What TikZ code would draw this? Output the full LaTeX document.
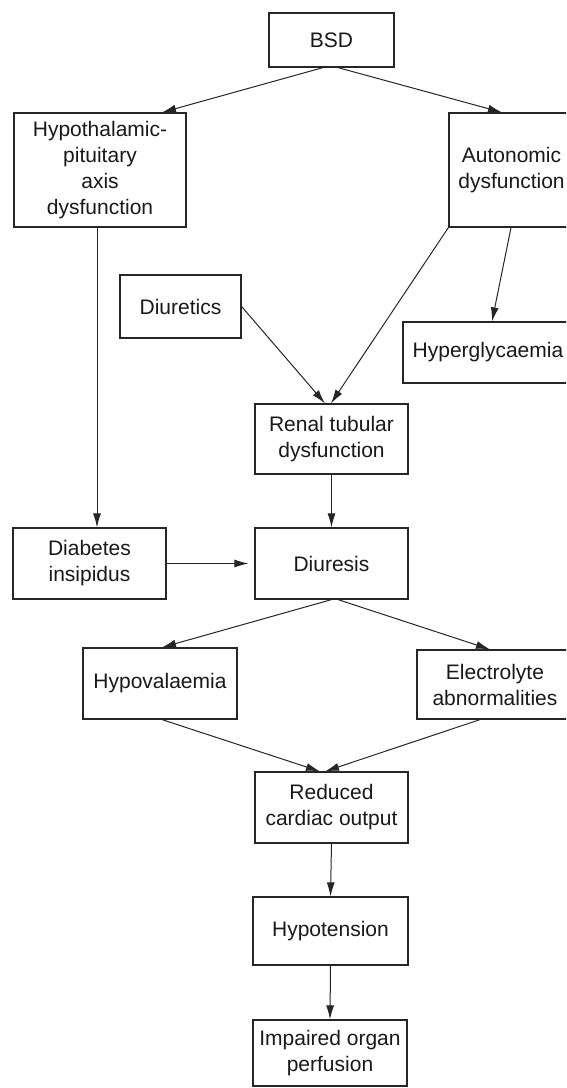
\documentclass[tikz,border=0pt]{standalone}
\usepackage{fontspec}
\setmainfont{Liberation Sans}
\usetikzlibrary{arrows.meta}
\begin{document}
\begin{tikzpicture}[x=1pt,y=-1pt,
  box/.style={draw=black!85, line width=1.2pt, inner sep=0pt, align=center,
    font=\fontsize{21}{26}\selectfont, text=black!90},
  conn/.style={draw=black!85, line width=1pt, -{Latex[length=14pt,width=8pt]}}]
\clip (0,0) rectangle (566,1088);
\fill[white] (0,0) rectangle (566,1088);
\node[box, minimum width=125pt, minimum height=54pt] (bsd) at (331.5,40) {BSD};
\node[box, minimum width=172pt, minimum height=114pt] (hpa) at (100,170) {Hypothalamic-\\pituitary\\axis\\dysfunction};
\node[box, minimum width=125pt, minimum height=114pt] (aut) at (511.5,170) {Autonomic\\dysfunction};
\node[box, minimum width=121pt, minimum height=63pt] (diur) at (180.5,306.5) {Diuretics};
\node[box, minimum width=170pt, minimum height=61pt] (hyper) at (488,352.5) {Hyperglycaemia};
\node[box, minimum width=153pt, minimum height=70pt] (renal) at (331.5,439) {Renal tubular\\dysfunction};
\node[box, minimum width=153pt, minimum height=71pt] (di) at (89.5,563.5) {Diabetes\\insipidus};
\node[box, minimum width=153pt, minimum height=71pt] (dis) at (331.5,563.5) {Diuresis};
\node[box, minimum width=154pt, minimum height=71pt] (hypov) at (160,683.5) {Hypovalaemia};
\node[box, minimum width=156pt, minimum height=69pt] (elec) at (495,684.5) {Electrolyte\\abnormalities};
\node[box, minimum width=153pt, minimum height=71pt] (red) at (331.5,807.5) {Reduced\\cardiac output};
\node[box, minimum width=155pt, minimum height=68pt] (hypot) at (330.5,931) {Hypotension};
\node[box, minimum width=154pt, minimum height=66pt] (imp) at (330,1053) {Impaired organ\\perfusion};

\draw[conn] ([xshift=-8.5pt]bsd.south) -- ([xshift=62pt]hpa.north);
\draw[conn] ([xshift=6.5pt]bsd.south) -- ([xshift=-9.5pt]aut.north);
\draw[conn] ([xshift=-3pt]hpa.south) -- ([xshift=-3pt]hpa.south |- di.north);
\draw[conn] (aut.south west) -- ([xshift=-0.5pt]renal.north);
\draw[conn] (diur.east) -- ([xshift=-6.5pt]renal.north);
\draw[conn] ([xshift=-0.5pt]aut.south) -- ([xshift=4pt]hyper.north);
\draw[conn] (renal.south) -- (dis.north);
\draw[conn, shorten >=6pt] (di.east) -- (dis.west);
\draw[conn] (dis.south) -- ([xshift=2pt]hypov.north);
\draw[conn] ([xshift=6.5pt]dis.south) -- ([xshift=-5pt]elec.north);
\draw[conn] ([xshift=2pt]hypov.south) -- ([xshift=-11.5pt]red.north);
\draw[conn] ([xshift=-15pt]elec.south) -- ([xshift=-6.5pt]red.north);
\draw[conn] (red.south) -- (hypot.north);
\draw[conn] (hypot.south) -- (imp.north);
\end{tikzpicture}
\end{document}
